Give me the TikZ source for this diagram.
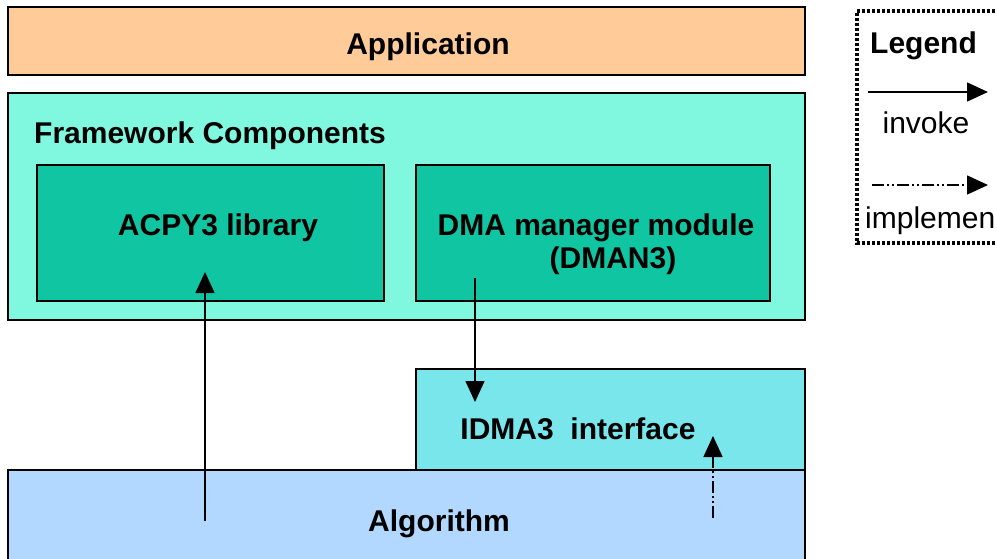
\documentclass[tikz,border=0pt]{standalone}
\usepackage{fontspec}
\setmainfont{Liberation Sans}
\usetikzlibrary{arrows.meta}
\definecolor{appc}{HTML}{FFCC99}
\definecolor{fwc}{HTML}{80F8DF}
\definecolor{compc}{HTML}{10C5A2}
\definecolor{idmac}{HTML}{79E6EC}
\definecolor{algc}{HTML}{B3D8FF}
\tikzset{
  box/.style={draw=black, line width=2pt, rectangle, inner sep=0pt},
  lbl/.style={font=\fontsize{30}{36}\selectfont\bfseries, inner sep=0pt},
  ltxt/.style={font=\fontsize{30}{36}\selectfont, inner sep=0pt},
  invoke/.style={line width=1.5pt, -{Triangle[length=21pt,width=19pt]}},
  implem/.style={line width=1.5pt, dash pattern=on 12pt off 3pt on 2pt off 3pt on 2pt off 3pt, -{Triangle[length=21pt,width=19pt]}}
}
\begin{document}
\begin{tikzpicture}[x=1pt,y=-1pt]
\useasboundingbox (0,0) rectangle (997,559);
\begin{scope}
\clip (0,0) rectangle (997,559);
% boxes
\node[box, fill=appc, minimum width=797pt, minimum height=68pt] (app) at (406.5,41) {};
\node[box, fill=fwc, minimum width=797pt, minimum height=227pt] (fw) at (406.5,206.5) {};
\node[box, fill=compc, minimum width=347pt, minimum height=136pt] (acpy) at (210.5,233) {};
\node[box, fill=compc, minimum width=354pt, minimum height=136pt] (dman) at (593,233) {};
\node[box, fill=idmac, minimum width=389pt, minimum height=101pt] (idma) at (610.5,419.5) {};
\node[box, fill=algc, minimum width=797pt, minimum height=110pt] (alg) at (406.5,525) {};
% texts
\node[lbl] (tapp) at (428,47) {Application};
\node[lbl, anchor=west] (tfw) at (34,136) {Framework Components};
\node[lbl] (tacpy) at (218,228) {ACPY3 library};
\node[lbl] (tdman) at (596,228) {DMA manager module};
\node[lbl] (tdman2) at (613,261) {(DMAN3)};
\node[lbl] (tidma) at (578,429) {IDMA3\ \ interface};
\node[lbl] (talg) at (439,524) {Algorithm};
% connectors
\coordinate (c1s) at (205,521);
\coordinate (c1e) at (205,272);
\coordinate (c2s) at (475,278);
\coordinate (c2e) at (475,402);
\coordinate (c3s) at (713,518);
\coordinate (c3e) at (713,436);
\draw[invoke] (c1s) -- (c1e);
\draw[invoke] (c2s) -- (c2e);
\draw[implem] (c3s) -- (c3e);
% legend
\draw[line width=3.5pt, dash pattern=on 3pt off 2pt] (1020,11) -- (857,11) -- (857,243) -- (1020,243);
\node[lbl, anchor=west] (tleg) at (870,46) {Legend};
\coordinate (l1s) at (868,92);
\coordinate (l1e) at (988,92);
\draw[invoke] (l1s) -- (l1e);
\node[ltxt] (tinv) at (926,123) {invoke};
\coordinate (l2s) at (872,185);
\coordinate (l2e) at (988,185);
\draw[implem] (l2s) -- (l2e);
\node[ltxt, anchor=west] (timp) at (865,221) {implemen};
\end{scope}
\end{tikzpicture}
\end{document}
